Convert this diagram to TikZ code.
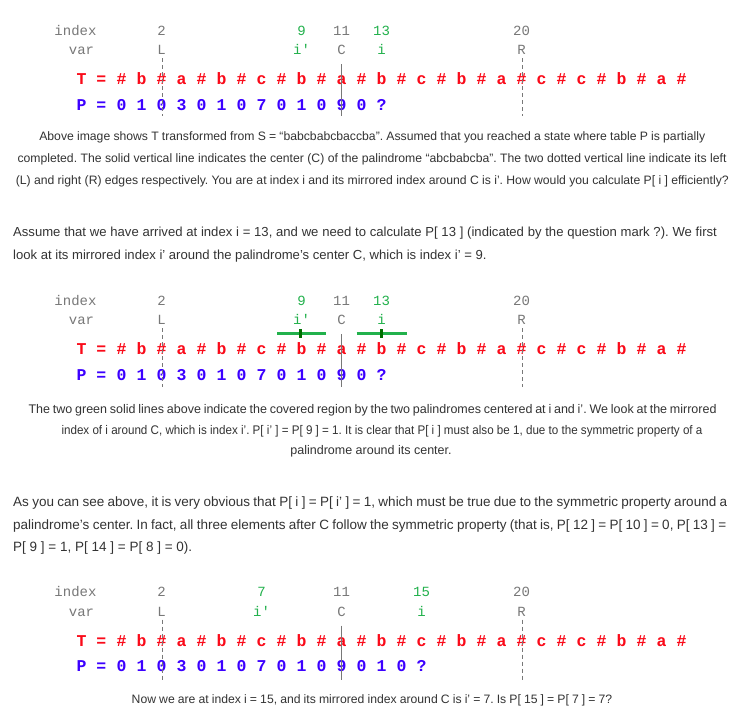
\documentclass[tikz,border=0pt]{standalone}
\usepackage{graphicx}
\usepackage{fontspec}
\setmainfont{Liberation Sans}
\setmonofont{Liberation Mono}
\usetikzlibrary{positioning}
\definecolor{tred}{RGB}{250,10,25}
\definecolor{pblue}{RGB}{60,0,255}
\definecolor{idxgray}{RGB}{120,120,120}
\definecolor{mgreen}{RGB}{34,177,76}
\definecolor{dgreen}{RGB}{0,110,0}
\definecolor{bodytext}{RGB}{51,51,51}
\tikzset{
  idx/.style={font=\ttfamily\fontsize{14}{14}\selectfont, text=idxgray, inner sep=0pt, anchor=base}, % index and var rows
  hot/.style={idx, text=mgreen}, % i and i' labels
  trow/.style={font=\ttfamily\bfseries\fontsize{16.5}{16.5}\selectfont, text=tred, inner sep=0pt, anchor=base},
  prow/.style={trow, text=pblue},
  edge line/.style={idxgray, line width=0.9pt, dash pattern=on 4pt off 3pt}, % L and R
  center line/.style={idxgray, line width=0.9pt}, % C
  cover/.style={mgreen, line width=3pt},
  tick/.style={dgreen, line width=3pt},
  para/.style={font=\fontsize{12.2}{14}\selectfont, text=bodytext, inner sep=0pt, anchor=base},
  lpara/.style={para, anchor=base west},
}
\newcommand\spread[2]{\makebox[#1pt][s]{#2}} % stretch a line to the width it has on the page
\def\Tstr{\#,b,\#,a,\#,b,\#,c,\#,b,\#,a,\#,b,\#,c,\#,b,\#,a,\#,c,\#,c,\#,b,\#,a,\#}

\begin{document}
\frenchspacing
\begin{tikzpicture}[x=1pt, y=-1pt]
  \fill[white] (0,0) rectangle (746,721);
  \useasboundingbox (0,0) rectangle (746,721);

  % first table: i = 13
  \begin{scope}
    \node[idx] (index1) at (75.5,35) {index};
    \node[idx] (var1) at (81.5,54.5) {var};
    \node[idx] (nL1) at (161.5,35) {2};
    \node[hot] (nIp1) at (301.5,35) {9};
    \node[idx] (nC1) at (341.5,35) {11};
    \node[hot] (nI1) at (381.5,35) {13};
    \node[idx] (nR1) at (521.5,35) {20};
    \node[idx] (vL1) at (161.5,54.5) {L};
    \node[hot] (vIp1) at (301.5,54.5) {i'};
    \node[idx] (vC1) at (341.5,54.5) {C};
    \node[hot] (vI1) at (381.5,54.5) {i};
    \node[idx] (vR1) at (521.5,54.5) {R};
    \node[trow] (tlab1) at (91.5,84.3) {T =};
    \foreach \ch [count=\k from 0] in \Tstr
      \node[trow] (t1-\k) at (121.5+20*\k,84.3) {\ch};
    \node[prow] (plab1) at (91.5,110) {P =};
    \foreach \v [count=\k from 0] in {0,1,0,3,0,1,0,7,0,1,0,9,0,?}
      \node[prow] (p1-\k) at (121.5+20*\k,110) {\v};
    \coordinate (L1top) at (162.3,58);
    \coordinate (L1bot) at (162.3,116);
    \coordinate (C1top) at (341.7,64);
    \coordinate (C1bot) at (341.7,116);
    \coordinate (R1top) at (522.7,58);
    \coordinate (R1bot) at (522.7,116);
    \draw[edge line] (L1top) -- (L1bot);
    \draw[center line] (C1top) -- (C1bot);
    \draw[edge line] (R1top) -- (R1bot);
  \end{scope}

  \node[para] (s1) at (372.3,140.7) {\spread{666}{Above image shows T transformed from S = “babcbabcbaccba”. Assumed that you reached a state where table P is partially}};
  \node[para] (s2) at (372,162.7) {\spread{709}{completed. The solid vertical line indicates the center (C) of the palindrome “abcbabcba”. The two dotted vertical line indicate its left}};
  \node[para] (s3) at (372.3,184.3) {\spread{713}{(L) and right (R) edges respectively. You are at index i and its mirrored index around C is i’. How would you calculate P[ i ] efficiently?}};

  \node[lpara, font=\fontsize{13.1}{15}\selectfont] (a1) at (13,236.7) {\spread{703.7}{Assume that we have arrived at index i = 13, and we need to calculate P[ 13 ] (indicated by the question mark ?). We first}};
  \node[lpara, font=\fontsize{13.1}{15}\selectfont] (a2) at (13,259) {look at its mirrored index i’ around the palindrome’s center C, which is index i’ = 9.};

  % second table: the two covered regions
  \begin{scope}[yshift=-270pt]
    \node[idx] (index2) at (75.5,35) {index};
    \node[idx] (var2) at (81.5,54.5) {var};
    \node[idx] (nL2) at (161.5,35) {2};
    \node[hot] (nIp2) at (301.5,35) {9};
    \node[idx] (nC2) at (341.5,35) {11};
    \node[hot] (nI2) at (381.5,35) {13};
    \node[idx] (nR2) at (521.5,35) {20};
    \node[idx] (vL2) at (161.5,54.5) {L};
    \node[hot] (vIp2) at (301.5,54.5) {i'};
    \node[idx] (vC2) at (341.5,54.5) {C};
    \node[hot] (vI2) at (381.5,54.5) {i};
    \node[idx] (vR2) at (521.5,54.5) {R};
    \coordinate (ipl) at (277.3,63.3);
    \coordinate (ipr) at (325.7,63.3);
    \coordinate (il) at (356.7,63.3);
    \coordinate (ir) at (406.7,63.3);
    \coordinate (iptop) at (300.5,59);
    \coordinate (ipbot) at (300.5,68);
    \coordinate (itop) at (381,59);
    \coordinate (ibot) at (381,68);
    \draw[cover] (ipl) -- (ipr);
    \draw[cover] (il) -- (ir);
    \draw[tick] (iptop) -- (ipbot);
    \draw[tick] (itop) -- (ibot);
    \node[trow] (tlab2) at (91.5,84.3) {T =};
    \foreach \ch [count=\k from 0] in \Tstr
      \node[trow] (t2-\k) at (121.5+20*\k,84.3) {\ch};
    \node[prow] (plab2) at (91.5,110) {P =};
    \foreach \v [count=\k from 0] in {0,1,0,3,0,1,0,7,0,1,0,9,0,?}
      \node[prow] (p2-\k) at (121.5+20*\k,110) {\v};
    \coordinate (L2top) at (162.3,58);
    \coordinate (L2bot) at (162.3,117);
    \coordinate (C2top) at (341.7,64);
    \coordinate (C2bot) at (341.7,117);
    \coordinate (R2top) at (522.7,58);
    \coordinate (R2bot) at (522.7,117);
    \draw[edge line] (L2top) -- (L2bot);
    \draw[center line] (C2top) -- (C2bot);
    \draw[edge line] (R2top) -- (R2bot);
  \end{scope}

  \node[para, font=\fontsize{12.5}{15}\selectfont] (b1) at (372.6,413) {\spread{688}{The two green solid lines above indicate the covered region by the two palindromes centered at i and i’. We look at the mirrored}};
  \node[para, font=\fontsize{12.5}{15}\selectfont] (b2) at (382,434) {\scalebox{0.93}[1]{index of i around C, which is index i’. P[ i’ ] = P[ 9 ] = 1. It is clear that P[ i ] must also be 1, due to the symmetric property of a}};
  \node[para, font=\fontsize{12.5}{15}\selectfont] (b3) at (371,454) {palindrome around its center.};

  \node[lpara, font=\fontsize{13.5}{15}\selectfont] (c1) at (13,506) {\spread{714}{As you can see above, it is very obvious that P[ i ] = P[ i’ ] = 1, which must be true due to the symmetric property around a}};
  \node[lpara, font=\fontsize{13.5}{15}\selectfont] (c2) at (13,529) {\spread{713}{palindrome’s center. In fact, all three elements after C follow the symmetric property (that is, P[ 12 ] = P[ 10 ] = 0, P[ 13 ] =}};
  \node[lpara, font=\fontsize{13.5}{15}\selectfont] (c3) at (13,551) {P[ 9 ] = 1, P[ 14 ] = P[ 8 ] = 0).};

  % third table: i = 15
  \begin{scope}[yshift=-561.7pt]
    \node[idx] (index3) at (75.5,35) {index};
    \node[idx] (var3) at (81.5,54.5) {var};
    \node[idx] (nL3) at (161.5,35) {2};
    \node[hot] (nIp3) at (261.5,35) {7};
    \node[idx] (nC3) at (341.5,35) {11};
    \node[hot] (nI3) at (421.5,35) {15};
    \node[idx] (nR3) at (521.5,35) {20};
    \node[idx] (vL3) at (161.5,54.5) {L};
    \node[hot] (vIp3) at (261.5,54.5) {i'};
    \node[idx] (vC3) at (341.5,54.5) {C};
    \node[hot] (vI3) at (421.5,54.5) {i};
    \node[idx] (vR3) at (521.5,54.5) {R};
    \node[trow] (tlab3) at (91.5,84.3) {T =};
    \foreach \ch [count=\k from 0] in \Tstr
      \node[trow] (t3-\k) at (121.5+20*\k,84.3) {\ch};
    \node[prow] (plab3) at (91.5,110) {P =};
    \foreach \v [count=\k from 0] in {0,1,0,3,0,1,0,7,0,1,0,9,0,1,0,?}
      \node[prow] (p3-\k) at (121.5+20*\k,110) {\v};
    \coordinate (L3top) at (162.3,58);
    \coordinate (L3bot) at (162.3,118);
    \coordinate (C3top) at (341.7,64);
    \coordinate (C3bot) at (341.7,118);
    \coordinate (R3top) at (522.7,58);
    \coordinate (R3bot) at (522.7,118);
    \draw[edge line] (L3top) -- (L3bot);
    \draw[center line] (C3top) -- (C3bot);
    \draw[edge line] (R3top) -- (R3bot);
  \end{scope}

  \node[para] (d1) at (372,703.3) {\spread{480.6}{Now we are at index i = 15, and its mirrored index around C is i’ = 7. Is P[ 15 ] = P[ 7 ] = 7?}};
\end{tikzpicture}
\end{document}
